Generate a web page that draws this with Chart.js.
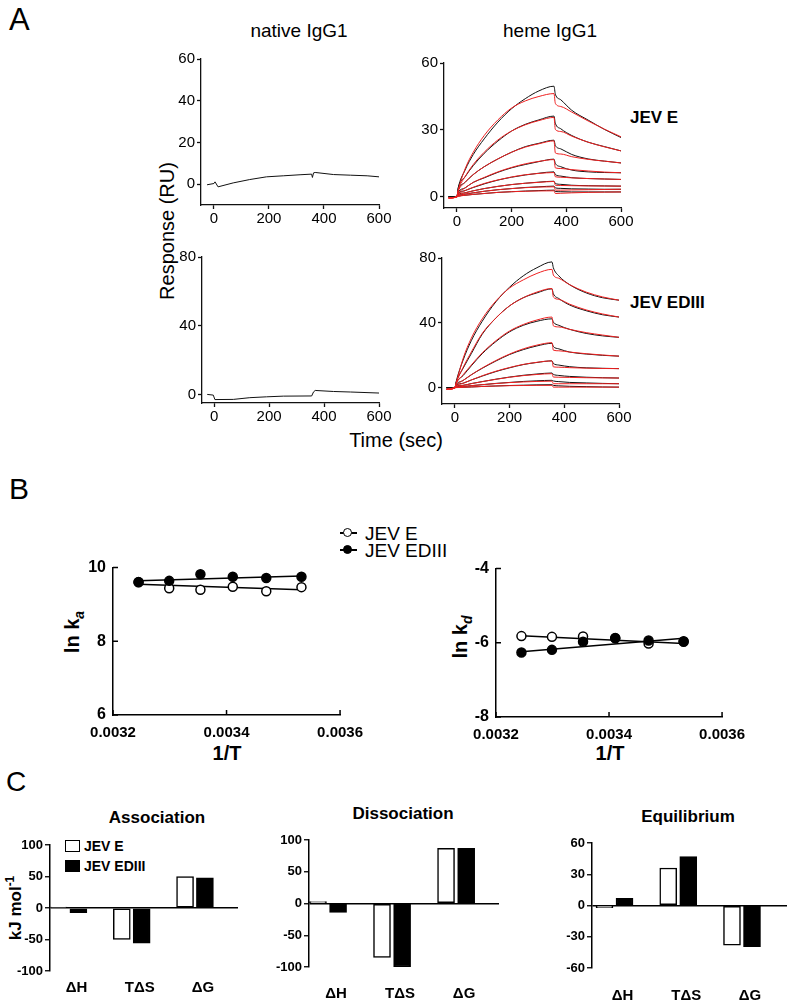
<!DOCTYPE html>
<html>
<head>
<meta charset="utf-8">
<script src="https://cdn.jsdelivr.net/npm/chart.js@4.4.1/dist/chart.umd.min.js"></script>
<style>
  body { margin: 0; background: #fff; }
  #figure { position: relative; width: 787px; height: 1004px; overflow: hidden;
            font-family: "Liberation Sans", Arial, sans-serif; color: #000; }
  #figure canvas { position: absolute; }
  .lbl { position: absolute; white-space: nowrap; line-height: 1; }
  .ctr { transform: translate(-50%, -50%); }
  .vmid { transform: translate(0, -50%); }
  .rot { transform: translate(-50%, -50%) rotate(-90deg); }
  .b { font-weight: bold; }
  sub, sup { font-size: 0.7em; line-height: 0; }
  .mkline { position: absolute; height: 1.5px; width: 17px; background: #000; }
  .mkdot { position: absolute; width: 7px; height: 7px; border: 1.5px solid #000; border-radius: 50%; }
  .sq { position: absolute; width: 13px; height: 10px; border: 1.5px solid #000; }
</style>
</head>
<body>
<div id="figure">
  <!-- panel A -->
  <div class="lbl" style="left:9px;top:4px;font-size:31px">A</div>
  <div class="lbl ctr" style="left:299px;top:30px;font-size:19px">native IgG1</div>
  <div class="lbl ctr" style="left:550px;top:30px;font-size:19px">heme IgG1</div>
  <div class="lbl rot" style="left:167px;top:231px;font-size:20px">Response (RU)</div>
  <div class="lbl ctr" style="left:396px;top:440px;font-size:20px">Time (sec)</div>
  <div class="lbl vmid b" style="left:630px;top:117px;font-size:17px">JEV E</div>
  <div class="lbl vmid b" style="left:630px;top:302px;font-size:17px">JEV EDIII</div>

  <!-- panel B -->
  <div class="lbl" style="left:9px;top:474px;font-size:30px">B</div>
  <div class="mkline" style="left:340px;top:532px"></div>
  <div class="mkdot" style="left:343px;top:528px;background:#fff"></div>
  <div class="lbl vmid" style="left:365px;top:533px;font-size:19px">JEV E</div>
  <div class="mkline" style="left:340px;top:549px"></div>
  <div class="mkdot" style="left:343px;top:545px;background:#000"></div>
  <div class="lbl vmid" style="left:365px;top:550px;font-size:19px">JEV EDIII</div>
  <div class="lbl rot b" style="left:72px;top:632px;font-size:20px">ln k<sub><i>a</i></sub></div>
  <div class="lbl rot b" style="left:460px;top:637px;font-size:20px">ln k<sub><i>d</i></sub></div>
  <div class="lbl ctr b" style="left:227px;top:753px;font-size:20px">1/T</div>
  <div class="lbl ctr b" style="left:610px;top:753px;font-size:20px">1/T</div>

  <!-- panel C -->
  <div class="lbl" style="left:6px;top:768px;font-size:28px">C</div>
  <div class="lbl ctr b" style="left:157px;top:817px;font-size:17px">Association</div>
  <div class="lbl ctr b" style="left:403px;top:813px;font-size:17px">Dissociation</div>
  <div class="lbl ctr b" style="left:688px;top:816px;font-size:17px">Equilibrium</div>
  <div class="lbl rot b" style="left:15px;top:908px;font-size:17px">kJ mol<sup>-1</sup></div>
  <div class="sq" style="left:65px;top:840px;background:#fff"></div>
  <div class="lbl vmid b" style="left:84px;top:846px;font-size:14px">JEV E</div>
  <div class="sq" style="left:65px;top:860px;background:#000"></div>
  <div class="lbl vmid b" style="left:84px;top:866px;font-size:14px">JEV EDIII</div>
</div>

<script>
// ---- panel A: sensorgrams (RU vs time in sec) ----
const sensorTime = [-30, 0, 5, 30, 60, 100, 150, 200, 250, 300, 355, 360, 380, 420, 480, 540, 600];
const sensorTicks = [0, 200, 400, 600];

const hemeEObserved = [
    [0, 0, 4, 12, 19, 26, 33.5, 39.5, 44, 47.5, 49.6, 46, 43.5, 38.8, 34.4, 30.2, 26.6],
    [0, 0, 4, 9, 14, 19.5, 25, 29.5, 32.5, 34.5, 36.2, 33, 30.5, 27.5, 24.5, 22.5, 20.6],
    [0, 0, 3, 6.5, 10, 13.5, 17, 20, 22.5, 24, 25.4, 23, 21.5, 19, 17, 16, 15.2],
    [0, 0, 2, 4, 6.5, 8.5, 11, 13, 14.5, 15.8, 16.9, 15, 13.5, 12, 11.2, 10.9, 10.8],
    [0, 0, 1.5, 2.8, 4.2, 5.8, 7.5, 8.8, 9.8, 10.6, 11.2, 10, 9.3, 8.6, 8.2, 8, 7.8],
    [0, 0, 1, 1.8, 2.7, 3.7, 4.7, 5.5, 6.1, 6.6, 7.0, 6, 5.6, 5.2, 5, 4.9, 4.8],
    [0, 0, 0.6, 1.2, 1.8, 2.5, 3.2, 3.7, 4.2, 4.5, 4.8, 4, 3.8, 3.6, 3.5, 3.4, 3.4],
    [0, 0, 0.3, 0.7, 1.1, 1.5, 2, 2.3, 2.6, 2.8, 3.0, 2.4, 2.3, 2.2, 2.2, 2.2, 2.2]
];
const hemeEFit = [
    [-0.5, 0, 3, 12.5, 20, 27.5, 34.5, 39.8, 43, 45, 46.3, 41.9, 40.5, 38, 34, 30.3, 26.9],
    [-0.5, 0, 3, 9, 14.5, 20, 25.5, 29.5, 32.3, 34.2, 35.6, 30.2, 29.3, 27.2, 24.5, 22.4, 20.6],
    [-0.5, 0, 2.5, 6.5, 10, 13.5, 17, 20, 22.3, 23.8, 25.1, 19.7, 19.2, 18, 16.8, 16, 15.2],
    [-0.5, 0, 1.5, 4, 6.5, 8.7, 11.2, 13.2, 14.8, 15.9, 16.7, 13, 12.7, 12.2, 11.6, 11.1, 10.8],
    [-0.5, 0, 1, 2.8, 4.3, 6, 7.6, 8.9, 9.9, 10.5, 10.9, 9, 8.8, 8.5, 8.2, 8, 7.8],
    [-0.5, 0, 0.7, 1.8, 2.7, 3.7, 4.7, 5.5, 6.1, 6.5, 6.9, 5.2, 5.1, 5, 4.9, 4.85, 4.8],
    [-0.5, 0, 0.4, 1.2, 1.8, 2.5, 3.2, 3.7, 4.1, 4.4, 4.5, 3, 3, 3.1, 3.2, 3.3, 3.4],
    [-0.5, 0, 0.2, 0.7, 1.1, 1.5, 2, 2.3, 2.5, 2.65, 2.7, 1.5, 1.6, 1.8, 2, 2.1, 2.2]
];
const hemeEDIIIObserved = [
    [0, 0, 4, 17, 29, 41, 53, 62, 69, 74, 77.6, 74, 69, 63.5, 58.5, 55.5, 54],
    [0, 0, 3.5, 12, 21, 33, 43, 50.5, 55.5, 58.5, 61, 58, 55, 51, 47.5, 45, 43.6],
    [0, 0, 3, 7.5, 13.5, 21, 28.5, 34.5, 38.5, 41, 42.5, 40.5, 38.5, 36, 33.5, 32, 31.1],
    [0, 0, 2, 4.5, 8, 12, 16.5, 20.5, 23.5, 25.8, 27.4, 25.5, 24, 22, 20.8, 20, 19.5],
    [0, 0, 1.5, 2.8, 4.8, 7.2, 10, 12.3, 14.3, 15.6, 16.6, 15, 14, 13, 12.3, 12, 11.8],
    [0, 0, 1, 1.5, 2.6, 3.8, 5.3, 6.6, 7.7, 8.5, 9.1, 8.3, 7.6, 7, 6.5, 6.2, 6.0],
    [0, 0, 0.5, 0.8, 1.3, 1.9, 2.7, 3.3, 3.9, 4.3, 4.6, 4.2, 3.8, 3.3, 3, 2.7, 2.5],
    [0, 0, 0.2, 0.3, 0.5, 0.8, 1.1, 1.4, 1.6, 1.8, 1.9, 1.5, 1.2, 0.9, 0.7, 0.5, 0.4]
];
const hemeEDIIIFit = [
    [-1, 0, 3, 18, 30.5, 42.5, 53.5, 61.5, 66.5, 70.5, 73, 69.5, 67.5, 63.5, 59, 56, 54],
    [-1, 0, 3, 12.5, 22, 33.5, 43, 50.5, 55.5, 59, 61.2, 56, 54.5, 51.5, 48, 45.5, 43.6],
    [-1, 0, 2.5, 8, 14, 21.5, 29, 35, 39, 41.8, 43.6, 38.2, 37.5, 36, 34, 32.5, 31.1],
    [-1, 0, 1.5, 4.5, 8, 12.2, 16.8, 20.8, 24, 26.3, 27.8, 23.2, 22.8, 22, 21, 20.2, 19.5],
    [-1, 0, 1, 2.8, 4.8, 7.4, 10.2, 12.5, 14.4, 15.7, 16.6, 12.9, 12.7, 12.4, 12.1, 11.9, 11.8],
    [-1, 0, 0.7, 1.5, 2.5, 3.8, 5.2, 6.5, 7.5, 8.2, 8.7, 6.6, 6.5, 6.4, 6.2, 6.1, 6.0],
    [-1, 0, 0.3, 0.8, 1.3, 1.9, 2.6, 3.2, 3.6, 3.9, 4.1, 2.5, 2.5, 2.5, 2.5, 2.5, 2.5],
    [-1, 0, 0.1, 0.3, 0.5, 0.8, 1.1, 1.3, 1.4, 1.5, 1.5, 0.4, 0.4, 0.4, 0.4, 0.4, 0.4]
];

const nativeETime = [-25, 0, 4, 15, 70, 130, 191, 252, 313, 355, 358, 362, 368, 435, 496, 557, 600];
const nativeEResponse = [-0.3, 0.3, 1.1, -1.3, 0.6, 2.2, 3.5, 4.0, 4.5, 4.8, 3.2, 5.4, 5.6, 4.6, 4.3, 4.0, 3.5];
const nativeEDIIITime = [-25, -3, 3, 70, 130, 191, 252, 355, 362, 368, 435, 496, 600];
const nativeEDIIIResponse = [0, -0.4, -3.0, -2.9, -1.9, -1.4, -1.0, -0.9, 1.5, 2.3, 1.7, 1.4, 0.8];

// ---- panel B: Arrhenius-type plots ----
const invT = [0.003245, 0.003299, 0.003354, 0.003411, 0.003470, 0.003532];
const lnKaE = [9.60, 9.44, 9.40, 9.48, 9.36, 9.47];
const lnKaEDIII = [9.61, 9.64, 9.82, 9.75, 9.72, 9.75];
const lnKdE = [-5.82, -5.84, -5.83, -5.88, -6.02, -5.97];
const lnKdEDIII = [-6.26, -6.19, -5.97, -5.87, -5.94, -5.96];
const fitInvT = [0.003245, 0.003532];
const lnKaFitE = [9.55, 9.40];
const lnKaFitEDIII = [9.64, 9.77];
const lnKdFitE = [-5.81, -6.02];
const lnKdFitEDIII = [-6.24, -5.88];
const invTTicks = [0.0032, 0.0034, 0.0036];

// ---- panel C: thermodynamic parameters (kJ/mol) ----
const thermoTerms = ["\u0394H", "T\u0394S", "\u0394G"];
const assocE = [1.5, -50, 50];
const assocEDIII = [-7.5, -56, 48];
const dissocE = [3, -85, 87];
const dissocEDIII = [-14, -100, 87];
const equilE = [-2, 36, -38];
const equilEDIII = [7, 47, -39.5];

Chart.defaults.font.family = "'Liberation Sans', Arial, sans-serif";
Chart.defaults.color = "#000";
Chart.defaults.animation = false;
Chart.defaults.responsive = false;
Chart.defaults.plugins.legend.display = false;
Chart.defaults.plugins.tooltip.enabled = false;

function makeCanvas(id, box) {
    let canvas = document.createElement("canvas");
    canvas.id = id;
    let left = box.left - box.padL;
    let top = box.top - box.padT;
    canvas.width = box.right - left + box.padR;
    canvas.height = box.bottom - top + box.padB;
    canvas.style.left = left + "px";
    canvas.style.top = top + "px";
    document.getElementById("figure").appendChild(canvas);
    return canvas.getContext("2d");
}

function setTicks(values) {
    return (scale) => { scale.ticks = values.map((v) => ({ value: v })); };
}

function layoutFor(box) {
    return { padding: { top: box.padT, right: box.padR, left: 0, bottom: 0 } };
}

function sensorChart(id, box, xMin, yMin, yMax, yTicks, datasets) {
    new Chart(makeCanvas(id, box), {
        type: "line",
        data: { datasets: datasets },
        options: {
            layout: layoutFor(box),
            elements: {
                point: { radius: 0 },
                line: { borderWidth: 1, cubicInterpolationMode: "monotone" }
            },
            scales: {
                x: {
                    type: "linear", min: xMin, max: 600,
                    afterBuildTicks: setTicks(sensorTicks),
                    afterFit: (s) => { s.height = box.padB; },
                    border: { color: "#111", width: 1.3 },
                    grid: { drawOnChartArea: false, tickLength: 4, tickColor: "#111", tickWidth: 1.3 },
                    ticks: { font: { size: 15 }, padding: 1, maxRotation: 0 }
                },
                y: {
                    min: yMin, max: yMax,
                    afterBuildTicks: setTicks(yTicks),
                    afterFit: (s) => { s.width = box.padL; },
                    border: { color: "#111", width: 1.3 },
                    grid: { drawOnChartArea: false, tickLength: 4, tickColor: "#111", tickWidth: 1.3 },
                    ticks: { font: { size: 15 }, padding: 2 }
                }
            }
        }
    });
}

function sensorSets(observed, fit) {
    let sets = [];
    observed.forEach((curve) => {
        sets.push({ data: sensorTime.map((t, i) => ({ x: t, y: curve[i] })), borderColor: "#111", order: 2 });
    });
    fit.forEach((curve) => {
        sets.push({ data: sensorTime.map((t, i) => ({ x: t, y: curve[i] })), borderColor: "#ee2020", order: 1 });
    });
    return sets;
}

function nativeSet(times, values) {
    return [{ data: times.map((t, i) => ({ x: t, y: values[i] })), borderColor: "#111", cubicInterpolationMode: "default", tension: 0 }];
}

const boxA = { padL: 40, padT: 12, padR: 16, padB: 24 };
sensorChart("nativeE", { ...boxA, left: 201, top: 59, right: 379, bottom: 205 }, -47, -10, 60, [0, 20, 40, 60],
    nativeSet(nativeETime, nativeEResponse));
sensorChart("hemeE", { ...boxA, left: 444, top: 63, right: 621, bottom: 208 }, -47, -5, 60, [0, 30, 60],
    sensorSets(hemeEObserved, hemeEFit));
sensorChart("nativeEDIII", { ...boxA, left: 202, top: 257, right: 379, bottom: 403 }, -44, -5, 80, [0, 40, 80],
    nativeSet(nativeEDIIITime, nativeEDIIIResponse));
sensorChart("hemeEDIII", { ...boxA, left: 442, top: 258, right: 619, bottom: 404 }, -47, -10, 80, [0, 40, 80],
    sensorSets(hemeEDIIIObserved, hemeEDIIIFit));

// inward tick marks for the panel B axes
const inwardTicks = {
    id: "inwardTicks",
    afterDraw(chart) {
        const { ctx, chartArea: a, scales } = chart;
        ctx.save();
        ctx.strokeStyle = "#000";
        ctx.lineWidth = 1.5;
        ctx.beginPath();
        scales.x.ticks.forEach((t) => {
            let px = scales.x.getPixelForValue(t.value);
            ctx.moveTo(px, a.bottom);
            ctx.lineTo(px, a.bottom - 5);
        });
        scales.y.ticks.forEach((t) => {
            let py = scales.y.getPixelForValue(t.value);
            ctx.moveTo(a.left, py);
            ctx.lineTo(a.left + 5, py);
        });
        ctx.stroke();
        ctx.restore();
    }
};

function rateChart(id, box, yMin, yMax, ptsE, ptsD, fitE, fitD) {
    const pts = (vals) => invT.map((x, i) => ({ x: x, y: vals[i] }));
    const fit = (vals) => fitInvT.map((x, i) => ({ x: x, y: vals[i] }));
    new Chart(makeCanvas(id, box), {
        type: "scatter",
        data: {
            datasets: [
                { data: pts(ptsD), pointRadius: 4.5, pointBackgroundColor: "#000", pointBorderColor: "#000", pointBorderWidth: 1.5, order: 1 },
                { data: pts(ptsE), pointRadius: 4.5, pointBackgroundColor: "#fff", pointBorderColor: "#000", pointBorderWidth: 1.5, order: 1 },
                { data: fit(fitE), showLine: true, pointRadius: 0, borderColor: "#000", borderWidth: 1.5, order: 2 },
                { data: fit(fitD), showLine: true, pointRadius: 0, borderColor: "#000", borderWidth: 1.5, order: 2 }
            ]
        },
        plugins: [inwardTicks],
        options: {
            layout: layoutFor(box),
            scales: {
                x: {
                    type: "linear", min: 0.0032, max: 0.0036,
                    afterBuildTicks: setTicks(invTTicks),
                    afterFit: (s) => { s.height = box.padB; },
                    border: { color: "#000", width: 1.5 },
                    grid: { display: false, drawTicks: false },
                    ticks: { font: { size: 15, weight: "bold" }, padding: 9, maxRotation: 0, callback: (v) => v.toFixed(4) }
                },
                y: {
                    min: yMin, max: yMax,
                    afterBuildTicks: setTicks([yMin, (yMin + yMax) / 2, yMax]),
                    afterFit: (s) => { s.width = box.padL; },
                    border: { color: "#000", width: 1.5 },
                    grid: { display: false, drawTicks: false },
                    ticks: { font: { size: 16, weight: "bold" }, padding: 7 }
                }
            }
        }
    });
}

const boxB = { padL: 50, padT: 12, padR: 30, padB: 30 };
rateChart("lnKa", { ...boxB, left: 113, top: 563, right: 342, bottom: 715 }, 6, 10,
    lnKaE, lnKaEDIII, lnKaFitE, lnKaFitEDIII);
rateChart("lnKd", { ...boxB, left: 496, top: 564, right: 724, bottom: 717 }, -8, -4,
    lnKdE, lnKdEDIII, lnKdFitE, lnKdFitEDIII);

function thermoChart(id, box, yLim, yStep, xMin, xMax, valsE, valsD, labelPad) {
    // bars sit 10px either side of each category centre (spacing ~64px)
    const bars = (vals, shift) => vals.map((v, i) => ({ x: i + 1 + shift, y: v }));
    let yTicks = [];
    for (let v = -yLim; v <= yLim; v += yStep) yTicks.push(v);
    new Chart(makeCanvas(id, box), {
        type: "bar",
        data: {
            datasets: [
                { data: bars(valsE, -0.157), backgroundColor: "#fff", borderColor: "#000", borderWidth: 1.5 },
                { data: bars(valsD, 0.157), backgroundColor: "#000", borderColor: "#000", borderWidth: 1.5 }
            ]
        },
        options: {
            layout: layoutFor(box),
            datasets: { bar: { grouped: false, barThickness: 17, borderSkipped: false } },
            scales: {
                x: {
                    type: "linear", min: xMin, max: xMax, offset: false,
                    afterBuildTicks: setTicks([1, 2, 3]),
                    afterFit: (s) => { s.height = box.padB; },
                    border: { display: false },
                    grid: { display: false, drawTicks: false, offset: false },
                    ticks: { font: { size: 15, weight: "bold" }, padding: labelPad, labelOffset: 8, maxRotation: 0,
                             callback: (v) => thermoTerms[v - 1] }
                },
                y: {
                    min: -yLim, max: yLim,
                    afterBuildTicks: setTicks(yTicks),
                    afterFit: (s) => { s.width = box.padL; },
                    border: { color: "#000", width: 1.5 },
                    grid: {
                        color: (ctx) => (ctx.tick && ctx.tick.value === 0 ? "#000" : "rgba(0,0,0,0)"),
                        lineWidth: 1.5, tickColor: "#000", tickLength: 5, tickWidth: 1.3
                    },
                    ticks: { font: { size: 13, weight: "bold" }, padding: 2 }
                }
            }
        }
    });
}

const boxC = { padL: 45, padT: 12, padR: 4, padB: 32 };
thermoChart("assoc", { ...boxC, left: 50, top: 845, right: 238, bottom: 971 }, 100, 50, 0.708, 3.68,
    assocE, assocEDIII, 8);
thermoChart("dissoc", { ...boxC, left: 309, top: 840, right: 499, bottom: 967 }, 100, 50, 0.703, 3.67,
    dissocE, dissocEDIII, 18);
thermoChart("equil", { ...boxC, left: 592, top: 843, right: 787, bottom: 968 }, 60, 30, 0.647, 3.706,
    equilE, equilEDIII, 19);
</script>
</body>
</html>
